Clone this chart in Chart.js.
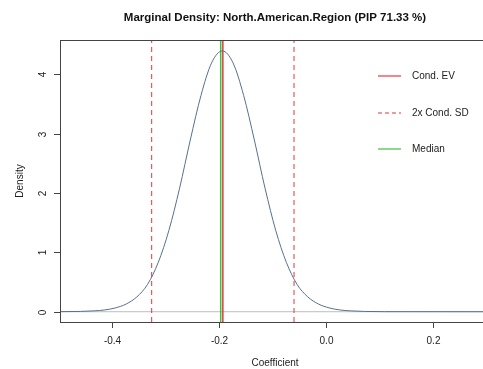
<!DOCTYPE html>
<html>
<head>
<meta charset="utf-8">
<script src="https://cdn.jsdelivr.net/npm/chart.js@4/dist/chart.umd.min.js"></script>
<style>
  html, body { margin: 0; padding: 0; overflow: hidden; background: #fff; }
  canvas { display: block; }
</style>
</head>
<body>
<canvas id="densityChart" width="490" height="369"></canvas>
<script>
// Marginal posterior density of the coefficient
const titleText = 'Marginal Density: North.American.Region (PIP 71.33 %)';
const coefX = [-0.50, -0.46, -0.434, -0.414, -0.394, -0.374, -0.354, -0.334, -0.314, -0.294,
               -0.274, -0.254, -0.234, -0.214, -0.194, -0.174, -0.154, -0.134, -0.114, -0.094,
               -0.074, -0.054, -0.034, -0.014, 0.006, 0.026, 0.046, 0.072, 0.11, 0.30];
const densityY = [0.001, 0.005, 0.015, 0.03, 0.065, 0.13, 0.25, 0.46, 0.83, 1.37,
                  2.08, 2.89, 3.64, 4.19, 4.39, 4.19, 3.64, 2.89, 2.08, 1.37,
                  0.83, 0.46, 0.25, 0.13, 0.065, 0.03, 0.015, 0.005, 0.001, 0];

// conditional expected value, +/- 2 SD band and median
const condEV = -0.193;
const sdLower = -0.3263;
const sdUpper = -0.0597;
const medianValue = -0.197;

const xTicks = [-0.4, -0.2, 0.0, 0.2];
const xTickLabels = ['-0.4', '-0.2', '0.0', '0.2'];
const yTicks = [0, 1, 2, 3, 4];
const xRange = [-0.498, 0.298];
const yRange = [-0.173, 4.574];
const legendLabels = ['Cond. EV', '2x Cond. SD', 'Median'];

const RED = '#e8343e';
const GREEN = '#3cc23c';
const FONT = '"Liberation Sans", Arial, sans-serif';

function vline(v) {
    return [{x: v, y: yRange[0]}, {x: v, y: yRange[1]}];
}

// R style box, axes, titles and legend
const rAxes = {
    id: 'rAxes',
    afterDraw(chart) {
        const {ctx, chartArea: a, scales: {x, y}} = chart;
        ctx.save();
        ctx.strokeStyle = '#444';
        ctx.lineWidth = 1;
        ctx.strokeRect(Math.round(a.left) + 0.5, Math.round(a.top) + 0.5,
                       Math.round(a.right - a.left), Math.round(a.bottom - a.top));

        ctx.fillStyle = '#222';
        ctx.font = '10px ' + FONT;
        ctx.textAlign = 'center';
        ctx.textBaseline = 'middle';
        xTicks.forEach((t, i) => {
            const px = Math.round(x.getPixelForValue(t)) + 0.5;
            ctx.beginPath();
            ctx.moveTo(px, a.bottom);
            ctx.lineTo(px, a.bottom + 6);
            ctx.stroke();
            ctx.fillText(xTickLabels[i], px, a.bottom + 19);
        });
        yTicks.forEach(t => {
            const py = Math.round(y.getPixelForValue(t)) + 0.5;
            ctx.beginPath();
            ctx.moveTo(a.left - 6, py);
            ctx.lineTo(a.left, py);
            ctx.stroke();
            ctx.save();
            ctx.translate(a.left - 17, py);
            ctx.rotate(-Math.PI / 2);
            ctx.fillText(String(t), 0, 0);
            ctx.restore();
        });

        ctx.fillText('Coefficient', 275, 363);
        ctx.save();
        ctx.translate(20, (a.top + a.bottom) / 2);
        ctx.rotate(-Math.PI / 2);
        ctx.fillText('Density', 0, 0);
        ctx.restore();

        ctx.fillStyle = '#111';
        ctx.font = 'bold 11.5px ' + FONT;
        ctx.fillText(titleText, 275, 18);

        // legend
        const rows = [76, 113, 149];
        const colors = [RED, RED, GREEN];
        const dashes = [[], [4, 3], []];
        ctx.font = '10px ' + FONT;
        ctx.textAlign = 'left';
        ctx.fillStyle = '#222';
        ctx.lineWidth = 1.2;
        rows.forEach((ry, i) => {
            ctx.strokeStyle = colors[i];
            ctx.setLineDash(dashes[i]);
            ctx.beginPath();
            ctx.moveTo(378, ry);
            ctx.lineTo(401, ry);
            ctx.stroke();
            ctx.fillText(legendLabels[i], 412, ry);
        });
        ctx.restore();
    }
};

const data = {
    datasets: [
        {
            label: 'density',
            data: coefX.map((v, i) => ({x: v, y: densityY[i]})),
            borderColor: '#56728e',
            borderWidth: 1,
            cubicInterpolationMode: 'monotone',
            order: 1
        },
        {
            label: 'zero',
            data: [{x: xRange[0], y: 0}, {x: xRange[1], y: 0}],
            borderColor: '#bdbdbd',
            borderWidth: 1,
            order: 5
        },
        {
            label: legendLabels[0],
            data: vline(condEV),
            borderColor: RED,
            borderWidth: 1.5,
            order: 3
        },
        {
            label: legendLabels[1],
            data: vline(sdLower),
            borderColor: RED,
            borderWidth: 1,
            borderDash: [5, 4],
            order: 3
        },
        {
            label: legendLabels[1],
            data: vline(sdUpper),
            borderColor: RED,
            borderWidth: 1,
            borderDash: [5, 4],
            order: 3
        },
        {
            label: legendLabels[2],
            data: vline(medianValue),
            borderColor: GREEN,
            borderWidth: 1.5,
            order: 2
        }
    ]
};

const config = {
    type: 'line',
    data,
    options: {
        responsive: false,
        animation: false,
        elements: { point: { radius: 0 } },
        layout: { padding: { left: 60, top: 40, right: 5, bottom: 47 } },
        scales: {
            x: { type: 'linear', min: xRange[0], max: xRange[1], display: false },
            y: { type: 'linear', min: yRange[0], max: yRange[1], display: false }
        },
        plugins: { legend: { display: false }, tooltip: { enabled: false } }
    },
    plugins: [rAxes]
};

const myChart = new Chart(document.getElementById('densityChart'), config);
</script>
</body>
</html>
